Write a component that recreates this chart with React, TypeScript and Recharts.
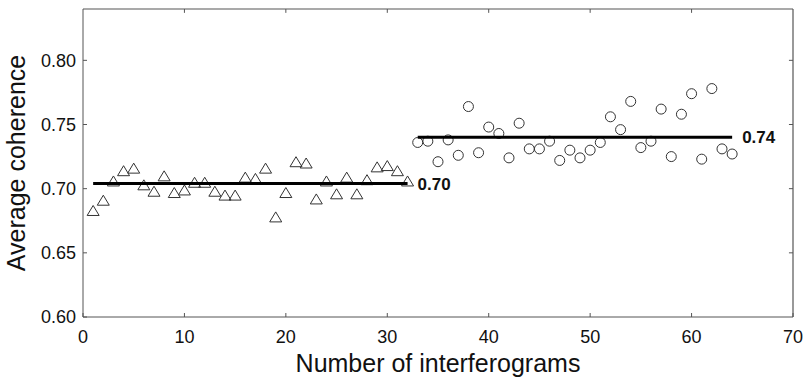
import { ScatterChart, Scatter, XAxis, YAxis, Label, ReferenceLine } from "recharts";

// interferogram numbers and their average coherence
const firstIds = [
  1, 2, 3, 4, 5, 6, 7, 8, 9, 10, 11, 12, 13, 14, 15, 16,
  17, 18, 19, 20, 21, 22, 23, 24, 25, 26, 27, 28, 29, 30, 31, 32,
];
const firstCoherence = [
  0.683, 0.691, 0.706, 0.714, 0.716, 0.703, 0.698, 0.71, 0.697, 0.699, 0.705, 0.705, 0.698, 0.695, 0.695, 0.709,
  0.708, 0.716, 0.678, 0.697, 0.721, 0.72, 0.692, 0.706, 0.696, 0.709, 0.696, 0.707, 0.717, 0.718, 0.714, 0.706,
];

const secondIds = [
  33, 34, 35, 36, 37, 38, 39, 40, 41, 42, 43, 44, 45, 46, 47, 48,
  49, 50, 51, 52, 53, 54, 55, 56, 57, 58, 59, 60, 61, 62, 63, 64,
];
const secondCoherence = [
  0.736, 0.737, 0.721, 0.738, 0.726, 0.764, 0.728, 0.748, 0.743, 0.724, 0.751, 0.731, 0.731, 0.737, 0.722, 0.73,
  0.724, 0.73, 0.736, 0.756, 0.746, 0.768, 0.732, 0.737, 0.762, 0.725, 0.758, 0.774, 0.723, 0.778, 0.731, 0.727,
];

// mean lines: start, end, level, label
const firstMean = { from: 1, to: 32, value: 0.704, label: "0.70" };
const secondMean = { from: 33, to: 64, value: 0.74, label: "0.74" };

const xDomain = [0, 70];
const yDomain = [0.6, 0.84];
const xTicks = [0, 10, 20, 30, 40, 50, 60, 70];
const yTicks = [0.6, 0.65, 0.7, 0.75, 0.8];

const frame = "#555";
const ink = "#111";
const markerStroke = "#333";

const firstData = firstIds.map((x, i) => ({ x, y: firstCoherence[i] }));
const secondData = secondIds.map((x, i) => ({ x, y: secondCoherence[i] }));
const meanData = (m: typeof firstMean) => [
  { x: m.from, y: m.value },
  { x: m.to, y: m.value, label: m.label },
];

// inward tick marks on the top and right edges of the box (about 4px long)
const topTicks = xTicks.slice(1, -1);
const rightTicks = yTicks.slice(1);
const tickLenX = 0.4;
const tickLenY = 0.003;

const Triangle = (p: any) => (
  <path
    d={`M${p.cx},${p.cy - 5}L${p.cx + 6},${p.cy + 5}L${p.cx - 6},${p.cy + 5}Z`}
    fill="none"
    stroke={markerStroke}
    strokeWidth={1}
  />
);

const Ring = (p: any) => (
  <circle cx={p.cx} cy={p.cy} r={5} fill="none" stroke={markerStroke} strokeWidth={1} />
);

const MeanEnd = (p: any) =>
  p.payload && p.payload.label ? (
    <text x={p.cx + 10} y={p.cy} dy="0.36em" fontSize={17} fontWeight={700} fill={ink}>
      {p.payload.label}
    </text>
  ) : (
    <g />
  );

const BottomTick = (p: any) => (
  <g>
    <line x1={p.x} x2={p.x} y1={p.y} y2={p.y - 4} stroke={frame} />
    <text x={p.x} y={p.y + 26} textAnchor="middle" fontSize={18} fill={ink}>
      {p.payload.value}
    </text>
  </g>
);

const LeftTick = (p: any) => (
  <g>
    <line x1={p.x} x2={p.x + 4} y1={p.y} y2={p.y} stroke={frame} />
    <text x={p.x - 7} y={p.y} dy="0.36em" textAnchor="end" fontSize={18} fill={ink}>
      {p.payload.value.toFixed(2)}
    </text>
  </g>
);

export default function App() {
  return (
    <div
      style={{
        position: "absolute",
        left: 0,
        top: 0,
        fontFamily: "'Liberation Sans', Arial, sans-serif",
      }}
    >
      <ScatterChart width={803} height={380} margin={{ top: 8, right: 9, bottom: 0, left: 0 }}>
        <XAxis
          dataKey="x"
          type="number"
          domain={xDomain}
          ticks={xTicks}
          height={63}
          tickSize={0}
          tickMargin={0}
          tickLine={false}
          axisLine={{ stroke: frame }}
          tick={BottomTick}
        >
          <Label
            value="Number of interferograms"
            position="insideBottom"
            offset={8}
            fontSize={25}
            fill={ink}
          />
        </XAxis>
        <XAxis
          xAxisId="top"
          orientation="top"
          dataKey="x"
          type="number"
          domain={xDomain}
          ticks={xTicks}
          height={1}
          tickSize={0}
          tickMargin={0}
          tickLine={false}
          tick={false}
          axisLine={{ stroke: frame, strokeWidth: 1.2 }}
        />
        <YAxis
          dataKey="y"
          type="number"
          domain={yDomain}
          ticks={yTicks}
          width={83}
          tickSize={0}
          tickMargin={0}
          tickLine={false}
          axisLine={{ stroke: frame }}
          tick={LeftTick}
        >
          <Label
            value="Average coherence"
            angle={-90}
            position="insideLeft"
            offset={16}
            fontSize={25}
            fill={ink}
            style={{ textAnchor: "middle" }}
          />
        </YAxis>
        <YAxis
          yAxisId="right"
          orientation="right"
          dataKey="y"
          type="number"
          domain={yDomain}
          ticks={yTicks}
          width={1}
          tickSize={0}
          tickMargin={0}
          tickLine={false}
          tick={false}
          axisLine={{ stroke: frame, strokeWidth: 1.2 }}
        />
        {topTicks.map((t) => (
          <ReferenceLine
            key={`t${t}`}
            xAxisId="top"
            yAxisId="right"
            ifOverflow="visible"
            segment={[
              { x: t, y: yDomain[1] },
              { x: t, y: yDomain[1] - tickLenY },
            ]}
            stroke={frame}
          />
        ))}
        {rightTicks.map((t) => (
          <ReferenceLine
            key={`r${t}`}
            xAxisId="top"
            yAxisId="right"
            ifOverflow="visible"
            segment={[
              { x: xDomain[1], y: t },
              { x: xDomain[1] - tickLenX, y: t },
            ]}
            stroke={frame}
          />
        ))}
        <Scatter data={firstData} shape={Triangle} isAnimationActive={false} />
        <Scatter data={secondData} shape={Ring} isAnimationActive={false} />
        <Scatter
          data={meanData(firstMean)}
          xAxisId="top"
          yAxisId="right"
          line={{ stroke: "#000", strokeWidth: 3 }}
          shape={MeanEnd}
          isAnimationActive={false}
        />
        <Scatter
          data={meanData(secondMean)}
          xAxisId="top"
          yAxisId="right"
          line={{ stroke: "#000", strokeWidth: 3 }}
          shape={MeanEnd}
          isAnimationActive={false}
        />
      </ScatterChart>
    </div>
  );
}
